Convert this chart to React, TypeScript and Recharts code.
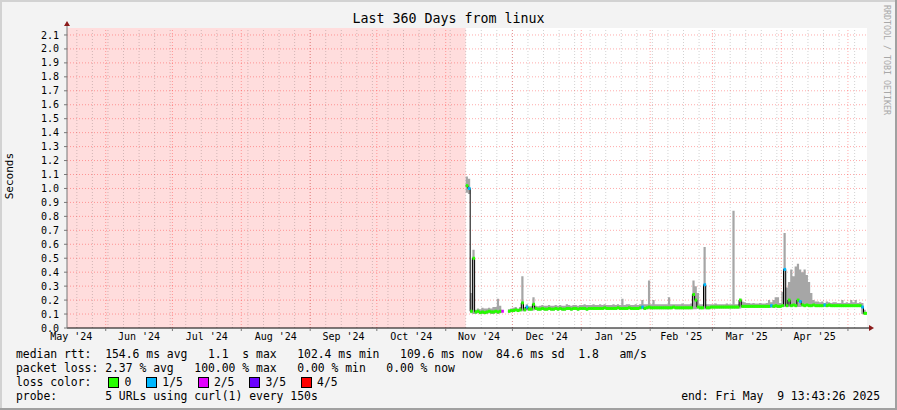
import { ComposedChart, Area, Line, XAxis, YAxis, ReferenceArea, ReferenceLine, ReferenceDot } from 'recharts';

const DAY = 86400000;
const START = Date.UTC(2024, 4, 14, 13, 43, 26);
const END = Date.UTC(2025, 4, 9, 13, 43, 26);
const FIRST_SAMPLE = Date.UTC(2024, 10, 10);
const Y_MAX = 2.15;
const MONO = "'DejaVu Sans Mono', monospace";

const monthLabels = ["May '24", "Jun '24", "Jul '24", "Aug '24", "Sep '24", "Oct '24", "Nov '24", "Dec '24", "Jan '25", "Feb '25", "Mar '25", "Apr '25"];
const yTicks = [0, 0.1, 0.2, 0.3, 0.4, 0.5, 0.6, 0.7, 0.8, 0.9, 1.0, 1.1, 1.2, 1.3, 1.4, 1.5, 1.6, 1.7, 1.8, 1.9, 2.0, 2.1];

// one sample per day from 10 Nov 2024, seconds
const median = [
  1.02, 1.0, 0.12, 0.5, 0.115, 0.12, 0.11, 0.115, 0.11, 0.115,
  0.12, 0.115, 0.115, 0.12, 0.115, 0.12, 0.12, null, null, 0.12,
  0.125, 0.125, 0.13, 0.125, 0.13, 0.18, 0.13, 0.15, 0.135, 0.135,
  0.17, 0.14, 0.135, 0.135, 0.14, 0.135, 0.135, 0.14, 0.135, 0.135,
  0.14, 0.135, 0.14, 0.135, 0.135, 0.14, 0.14, 0.135, 0.14, 0.14,
  0.135, 0.14, 0.14, 0.14, 0.135, 0.14, 0.14, 0.14, 0.14, 0.14,
  0.14, 0.14, 0.145, 0.14, 0.14, 0.14, 0.14, 0.14, 0.145, 0.14,
  0.14, 0.14, 0.14, 0.145, 0.14, 0.14, 0.14, 0.14, 0.145, 0.15,
  0.14, 0.145, 0.15, 0.145, 0.145, 0.145, 0.145, 0.145, 0.145, 0.145,
  0.145, 0.145, 0.145, 0.15, 0.145, 0.145, 0.145, 0.145, 0.145, 0.145,
  0.145, 0.145, 0.24, 0.2, 0.15, 0.145, 0.145, 0.31, 0.145, 0.145,
  0.15, 0.15, 0.15, 0.15, 0.15, 0.15, 0.15, 0.15, 0.15, 0.15,
  0.15, 0.15, 0.15, 0.2, 0.155, 0.155, 0.155, 0.155, 0.155, 0.155,
  0.155, 0.155, 0.155, 0.155, 0.155, 0.155, 0.155, 0.16, 0.155, 0.16,
  0.155, 0.155, 0.16, 0.42, 0.16, 0.2, 0.16, 0.165, 0.16, 0.2,
  0.19, 0.165, 0.16, 0.165, 0.16, 0.16, 0.165, 0.16, 0.16, 0.16,
  0.16, 0.165, 0.16, 0.165, 0.16, 0.16, 0.16, 0.16, 0.16, 0.16,
  0.16, 0.16, 0.16, 0.16, 0.16, 0.16, 0.16, 0.16, 0.15, 0.105,
  0.105,
];

const smokeHi = [
  1.085, 1.07, 0.25, 0.56, 0.13, 0.14, 0.135, 0.145, 0.14, 0.14,
  0.145, 0.14, 0.15, 0.15, 0.21, 0.16, 0.155, null, null, 0.135,
  0.14, 0.145, 0.15, 0.14, 0.15, 0.37, 0.15, 0.17, 0.155, 0.155,
  0.22, 0.16, 0.155, 0.16, 0.165, 0.16, 0.16, 0.165, 0.16, 0.16,
  0.165, 0.16, 0.165, 0.16, 0.16, 0.17, 0.165, 0.16, 0.165, 0.165,
  0.16, 0.165, 0.165, 0.17, 0.165, 0.165, 0.165, 0.17, 0.165, 0.165,
  0.17, 0.165, 0.17, 0.165, 0.165, 0.165, 0.17, 0.165, 0.17, 0.165,
  0.21, 0.165, 0.17, 0.17, 0.165, 0.165, 0.17, 0.165, 0.17, 0.2,
  0.17, 0.17, 0.34, 0.17, 0.2, 0.17, 0.17, 0.17, 0.17, 0.17,
  0.17, 0.22, 0.17, 0.17, 0.17, 0.17, 0.17, 0.175, 0.17, 0.17,
  0.17, 0.175, 0.34, 0.3, 0.25, 0.17, 0.17, 0.58, 0.17, 0.17,
  0.17, 0.17, 0.175, 0.17, 0.17, 0.17, 0.17, 0.175, 0.17, 0.17,
  0.84, 0.17, 0.17, 0.21, 0.19, 0.185, 0.18, 0.18, 0.175, 0.18,
  0.175, 0.175, 0.18, 0.175, 0.175, 0.18, 0.2, 0.185, 0.2, 0.22,
  0.22, 0.18, 0.26, 0.68, 0.29, 0.33, 0.42, 0.37, 0.44, 0.46,
  0.42, 0.4, 0.42, 0.38, 0.33, 0.25, 0.2, 0.19, 0.19, 0.185,
  0.19, 0.18, 0.19, 0.185, 0.18, 0.185, 0.185, 0.18, 0.18, 0.2,
  0.18, 0.185, 0.18, 0.2, 0.185, 0.2, 0.18, 0.185, 0.18, 0.13,
  0.12,
];

const smokeLo = [
  0.97, 0.96, 0.105, 0.1, 0.1, 0.105, 0.1, 0.1, 0.1, 0.1,
  0.105, 0.1, 0.1, 0.105, 0.1, 0.105, 0.105, null, null, 0.11,
  0.115, 0.115, 0.12, 0.115, 0.12, 0.12, 0.12, 0.125, 0.125, 0.125,
  0.125, 0.13, 0.125, 0.125, 0.13, 0.125, 0.125, 0.13, 0.125, 0.125,
  0.13, 0.125, 0.13, 0.125, 0.125, 0.13, 0.13, 0.125, 0.13, 0.13,
  0.125, 0.13, 0.13, 0.13, 0.125, 0.13, 0.13, 0.13, 0.13, 0.13,
  0.13, 0.13, 0.135, 0.13, 0.13, 0.13, 0.13, 0.13, 0.135, 0.13,
  0.13, 0.13, 0.13, 0.135, 0.13, 0.13, 0.13, 0.13, 0.135, 0.135,
  0.13, 0.135, 0.135, 0.135, 0.135, 0.135, 0.135, 0.135, 0.135, 0.135,
  0.135, 0.135, 0.135, 0.14, 0.135, 0.135, 0.135, 0.135, 0.135, 0.135,
  0.135, 0.135, 0.135, 0.135, 0.14, 0.135, 0.135, 0.135, 0.135, 0.135,
  0.14, 0.14, 0.14, 0.14, 0.14, 0.14, 0.14, 0.14, 0.14, 0.14,
  0.14, 0.14, 0.14, 0.14, 0.145, 0.145, 0.145, 0.145, 0.145, 0.145,
  0.145, 0.145, 0.145, 0.145, 0.145, 0.145, 0.145, 0.145, 0.145, 0.145,
  0.145, 0.145, 0.15, 0.15, 0.15, 0.15, 0.15, 0.155, 0.15, 0.15,
  0.15, 0.155, 0.15, 0.155, 0.15, 0.15, 0.155, 0.15, 0.15, 0.15,
  0.15, 0.15, 0.15, 0.15, 0.15, 0.15, 0.15, 0.15, 0.15, 0.15,
  0.15, 0.15, 0.15, 0.15, 0.15, 0.15, 0.15, 0.15, 0.1, 0.095,
  0.095,
];

// lost pings out of 5 per sample
const lossCount = [
  0, 1, 0, 0, 0, 0, 0, 0, 0, 0,
  0, 0, 0, 0, 0, 0, 2, 0, 0, 0,
  0, 0, 0, 0, 0, 0, 0, 1, 0, 0,
  0, 0, 0, 0, 0, 0, 0, 0, 0, 0,
  0, 0, 0, 0, 0, 0, 0, 0, 0, 0,
  0, 0, 0, 0, 0, 0, 0, 0, 0, 0,
  0, 0, 0, 0, 0, 0, 0, 0, 0, 0,
  0, 0, 0, 0, 0, 0, 0, 0, 0, 1,
  0, 0, 0, 0, 0, 0, 0, 0, 0, 0,
  0, 0, 0, 0, 0, 0, 0, 0, 0, 0,
  0, 0, 0, 0, 0, 0, 0, 1, 0, 0,
  0, 0, 0, 0, 0, 0, 0, 0, 0, 0,
  0, 0, 0, 0, 0, 0, 0, 0, 0, 0,
  0, 0, 0, 0, 0, 0, 0, 1, 0, 0,
  0, 0, 0, 1, 0, 0, 0, 0, 0, 0,
  1, 0, 0, 0, 0, 0, 0, 0, 0, 0,
  0, 1, 0, 0, 0, 0, 0, 0, 0, 0,
  0, 0, 0, 0, 0, 0, 0, 0, 1, 0,
  0,
];

const lossLabels = ['0', '1/5', '2/5', '3/5', '4/5'];
const lossColors = ['#26ff00', '#00b8ff', '#e400ff', '#6a00ff', '#ff0000'];

const legendLines = [
  'median rtt:  154.6 ms avg   1.1  s max   102.4 ms min   109.6 ms now  84.6 ms sd  1.8   am/s',
  'packet loss: 2.37 % avg   100.00 % max   0.00 % min   0.00 % now',
];
const probeLine = 'probe:       5 URLs using curl(1) every 150s';
const endLine = 'end: Fri May  9 13:43:26 2025';

const monthStart = (k: number) => Date.UTC(2024, 4 + k, 1);
const monthMids = monthLabels.map((_, k) => (monthStart(k) + monthStart(k + 1)) / 2);
const monthLines = monthLabels.map((_, k) => monthStart(k + 1));
const weekLines: number[] = [];
for (let w = Date.UTC(2024, 4, 19); w < END; w += 7 * DAY) weekLines.push(w);

const rows = median.map((m, i) => ({
  t: FIRST_SAMPLE + i * DAY,
  median: m,
  smoke: smokeLo[i] == null ? null : [smokeLo[i], smokeHi[i]],
  loss: lossCount[i],
}));

const majorGrid = { stroke: '#ff0000', strokeOpacity: 0.33, strokeDasharray: '1 2' };
const minorGrid = { stroke: '#000000', strokeOpacity: 0.18, strokeDasharray: '1 2' };
const ARROW = '#8b1a1a';
const legendText = { position: 'absolute' as const, fontSize: 11.4, lineHeight: '14px', color: '#000', whiteSpace: 'pre' as const };

function MedianMark(props: any) {
  const { cx, cy, payload, index } = props;
  if (cx == null || cy == null || payload.median == null) return <g key={`m${index}`} />;
  return <rect key={`m${index}`} x={cx} y={cy - 1.5} width={2.6} height={3} fill={lossColors[payload.loss]} />;
}

export default function App() {
  return (
    <div style={{ position: 'absolute', left: 0, top: 0, width: 897, height: 410, background: '#f3f3f3', fontFamily: MONO, overflow: 'hidden' }}>
      <div style={{ position: 'absolute', left: 0, top: 0, width: 897, height: 2, background: '#d2d2d2' }} />
      <div style={{ position: 'absolute', left: 0, top: 0, width: 2, height: 410, background: '#d2d2d2' }} />
      <div style={{ position: 'absolute', left: 0, top: 408, width: 897, height: 2, background: '#a0a0a0' }} />
      <div style={{ position: 'absolute', left: 895, top: 0, width: 2, height: 410, background: '#a0a0a0' }} />

      <div style={{ position: 'absolute', left: 0, top: 0 }}>
        <ComposedChart width={897} height={410} data={rows} margin={{ top: 28, right: 30, bottom: 62, left: 0 }}>
          <ReferenceArea x1={START} x2={END} y1={0} y2={Y_MAX} fill="#ffffff" fillOpacity={1} stroke="none" zIndex={-95} />
          <ReferenceArea x1={START} x2={FIRST_SAMPLE} y1={0} y2={Y_MAX} fill="#ffdddd" fillOpacity={1} stroke="none" zIndex={-90} />
          {weekLines.map(w => (
            <ReferenceLine key={`w${w}`} x={w} {...minorGrid} zIndex={-80} />
          ))}
          {yTicks.slice(1).map(v => (
            <ReferenceLine key={`y${v}`} y={v} {...majorGrid} zIndex={-75} />
          ))}
          {monthLines.map(m => (
            <ReferenceLine key={`mo${m}`} x={m} {...majorGrid} zIndex={-70} />
          ))}
          <Area
            type="stepAfter"
            dataKey="smoke"
            stroke="none"
            fill="#a6a6a6"
            fillOpacity={1}
            connectNulls={false}
            isAnimationActive={false}
          />
          <Line
            type="stepAfter"
            dataKey="median"
            stroke="#000000"
            strokeWidth={1}
            dot={MedianMark}
            activeDot={false}
            connectNulls={false}
            isAnimationActive={false}
          />
          {monthLines.map(m => (
            <ReferenceDot
              key={`tk${m}`}
              x={m}
              y={0}
              ifOverflow="visible"
              shape={(p: any) => <line x1={p.cx} y1={p.cy} x2={p.cx} y2={p.cy + 3} stroke="#777" />}
            />
          ))}
          <ReferenceDot
            x={END}
            y={0}
            ifOverflow="visible"
            shape={(p: any) => (
              <g>
                <line x1={p.cx} y1={p.cy} x2={p.cx + 3} y2={p.cy} stroke="#000" />
                <polygon points={`${p.cx + 2},${p.cy - 3} ${p.cx + 7},${p.cy} ${p.cx + 2},${p.cy + 3}`} fill={ARROW} />
              </g>
            )}
          />
          <ReferenceDot
            x={START}
            y={Y_MAX}
            ifOverflow="visible"
            shape={(p: any) => (
              <g>
                <line x1={p.cx} y1={p.cy} x2={p.cx} y2={p.cy - 3} stroke="#777" />
                <polygon points={`${p.cx - 3},${p.cy - 2} ${p.cx},${p.cy - 7} ${p.cx + 3},${p.cy - 2}`} fill={ARROW} />
              </g>
            )}
          />
          <XAxis
            dataKey="t"
            type="number"
            domain={[START, END]}
            allowDataOverflow
            ticks={monthMids}
            interval={0}
            tickFormatter={(v: number) => monthLabels[monthMids.indexOf(v)]}
            tickLine={false}
            tickSize={0}
            tickMargin={5}
            height={20}
            axisLine={{ stroke: '#000' }}
            tick={{ fontSize: 10, fill: '#000', fontFamily: MONO }}
          />
          <YAxis
            type="number"
            domain={[0, Y_MAX]}
            allowDataOverflow
            ticks={yTicks}
            interval={0}
            width={67}
            tickSize={3}
            tickMargin={5}
            tickFormatter={(v: number) => v.toFixed(1)}
            axisLine={{ stroke: '#777' }}
            tickLine={{ stroke: '#777' }}
            tick={{ fontSize: 10, fill: '#000', fontFamily: MONO }}
          />
        </ComposedChart>
      </div>

      <div style={{ position: 'absolute', left: 0, top: 11, width: 897, textAlign: 'center', fontSize: 13.3, lineHeight: '16px', color: '#000' }}>
        Last 360 Days from linux
      </div>
      <div style={{ position: 'absolute', left: 4, top: 153, writingMode: 'vertical-rl', transform: 'rotate(180deg)', fontSize: 11, lineHeight: '12px', color: '#000' }}>
        Seconds
      </div>
      <div style={{ position: 'absolute', left: 882, top: 5, writingMode: 'vertical-rl', fontSize: 8.3, lineHeight: '9px', color: '#a8a8a8' }}>
        RRDTOOL / TOBI OETIKER
      </div>

      <div style={{ ...legendText, left: 16, top: 347 }}>{legendLines[0]}</div>
      <div style={{ ...legendText, left: 16, top: 361 }}>{legendLines[1]}</div>
      <div style={{ ...legendText, left: 16, top: 375, display: 'flex', alignItems: 'center', height: 14 }}>
        <span>{'loss color:'}</span>
        <span style={{ display: 'flex', alignItems: 'center', marginLeft: 17 }}>
          {lossLabels.map((lab, k) => (
            <span key={lab} style={{ display: 'flex', alignItems: 'center', marginRight: 15 }}>
              <span style={{ display: 'inline-block', width: 9, height: 9, border: '1px solid #000', background: lossColors[k], marginRight: 5 }} />
              <span>{lab}</span>
            </span>
          ))}
        </span>
      </div>
      <div style={{ ...legendText, left: 16, top: 389 }}>{probeLine}</div>
      <div style={{ ...legendText, right: 17, top: 389 }}>{endLine}</div>
    </div>
  );
}
